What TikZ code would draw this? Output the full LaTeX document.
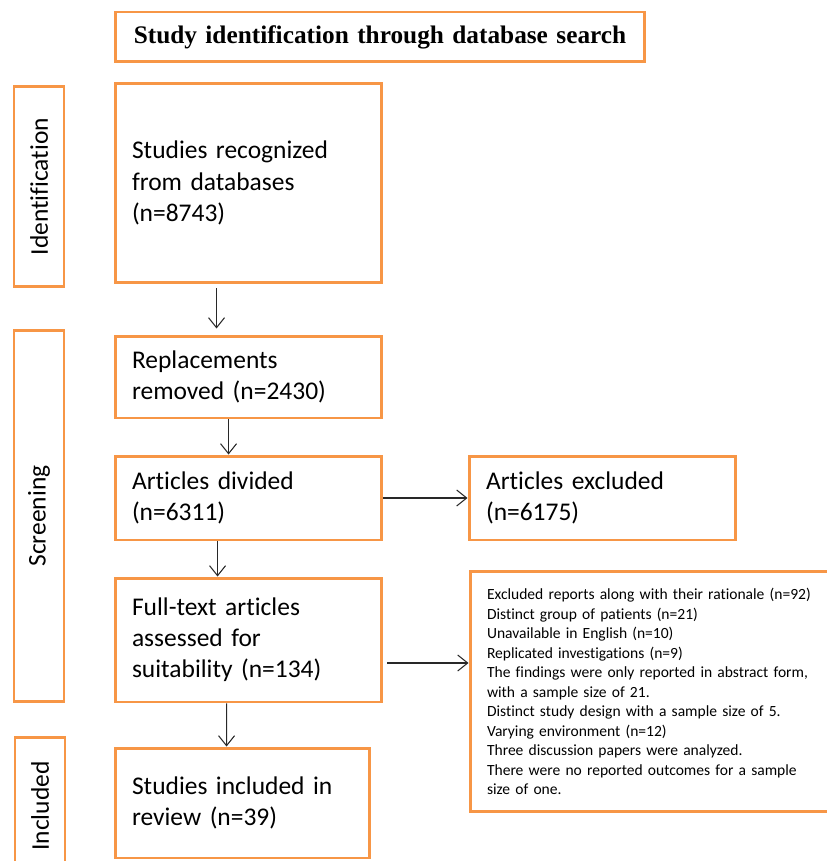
\documentclass[tikz,border=0pt]{standalone}
\usepackage{fontspec}
\setmainfont{Carlito}[Ligatures=NoCommon]
\newfontfamily\titlefont{Liberation Serif}
\usetikzlibrary{arrows.meta,calc}
\definecolor{PrismaOrange}{RGB}{247,150,70}
\definecolor{ArrowGray}{RGB}{40,40,40}
\tikzset{
  stagebox/.style={draw=PrismaOrange,line width=1.7pt,inner xsep=0.34cm,inner ysep=0pt,
    align=left,font=\fontsize{14.5}{17.7}\selectfont},
  phaselabel/.style={draw=PrismaOrange,line width=1.7pt,rotate=90,minimum height=1cm,
    inner sep=0pt,font=\fontsize{14.5}{17.7}\selectfont},
  flowarrow/.style={-{Straight Barb[length=2mm,width=3.2mm]},ArrowGray,line width=0.6pt}
}

\begin{document}
\begin{tikzpicture}[x=0.02cm,y=-0.02cm]
  \useasboundingbox (0,0) rectangle (827,861);
  % header
  \node[stagebox,align=center,text width=9.92cm,minimum height=1cm,
    font=\titlefont\bfseries\fontsize{14.4}{17}\selectfont] (head) at (380,37)
    {Study identification through database search};
  % phase labels
  \node[phaselabel,minimum width=4.02cm] (idlab) at (39,186.5) {Identification};
  \node[phaselabel,minimum width=7.44cm] (scrlab) at (39,516) {Screening};
  \node[phaselabel,minimum width=2.76cm] (inclab) at (40,806) {Included};
  % stages
  \node[stagebox,text width=4.66cm,minimum height=4cm] (recog) at (248.5,183)
    {Studies recognized\\from databases\\(n=8743)};
  \node[stagebox,text width=4.66cm,minimum height=1.64cm] (repl) at (248.5,377)
    {Replacements\\removed (n=2430)};
  \node[stagebox,text width=4.66cm,minimum height=1.68cm] (divid) at (248.5,498)
    {Articles divided\\(n=6311)};
  \node[stagebox,text width=4.66cm,minimum height=1.68cm] (exclA) at (602.5,498)
    {Articles excluded\\(n=6175)};
  \node[stagebox,text width=4.66cm,minimum height=2.48cm] (full) at (248.5,640)
    {Full-text articles\\assessed for\\suitability (n=134)};
  \node[stagebox,text width=6.72cm,minimum height=4.82cm,
    font=\fontsize{8.85}{11.1}\selectfont] (exclB) at (655,691.5)
    {Excluded reports along with their rationale (n=92)\\
     Distinct group of patients (n=21)\\
     Unavailable in English (n=10)\\
     Replicated investigations (n=9)\\
     The findings were only reported in abstract form,\\
     with a sample size of 21.\\
     Distinct study design with a sample size of 5.\\
     Varying environment (n=12)\\
     Three discussion papers were analyzed.\\
     There were no reported outcomes for a sample\\
     size of one.};
  \node[stagebox,text width=4.42cm,minimum height=2.2cm] (incl) at (242.5,803)
    {Studies included in\\review (n=39)};
  % connectors
  \draw[flowarrow] ($(recog.south west)+(103,4)$) -- ($(repl.north west)+(103,-6)$);
  \draw[flowarrow] ($(repl.south west)+(115,0)$) -- ($(divid.north west)+(115,0)$);
  \draw[flowarrow] (divid.east) -- (exclA.west);
  \draw[flowarrow] ($(divid.south west)+(104,0)$) -- ($(full.north west)+(104,0)$);
  \coordinate (fullout) at ($(full.east)+(4,23)$);
  \draw[flowarrow] (fullout) -- (fullout -| exclB.west);
  \draw[flowarrow] ($(full.south west)+(113,0)$) -- ($(incl.north west)+(113,0)$);
\end{tikzpicture}
\end{document}
